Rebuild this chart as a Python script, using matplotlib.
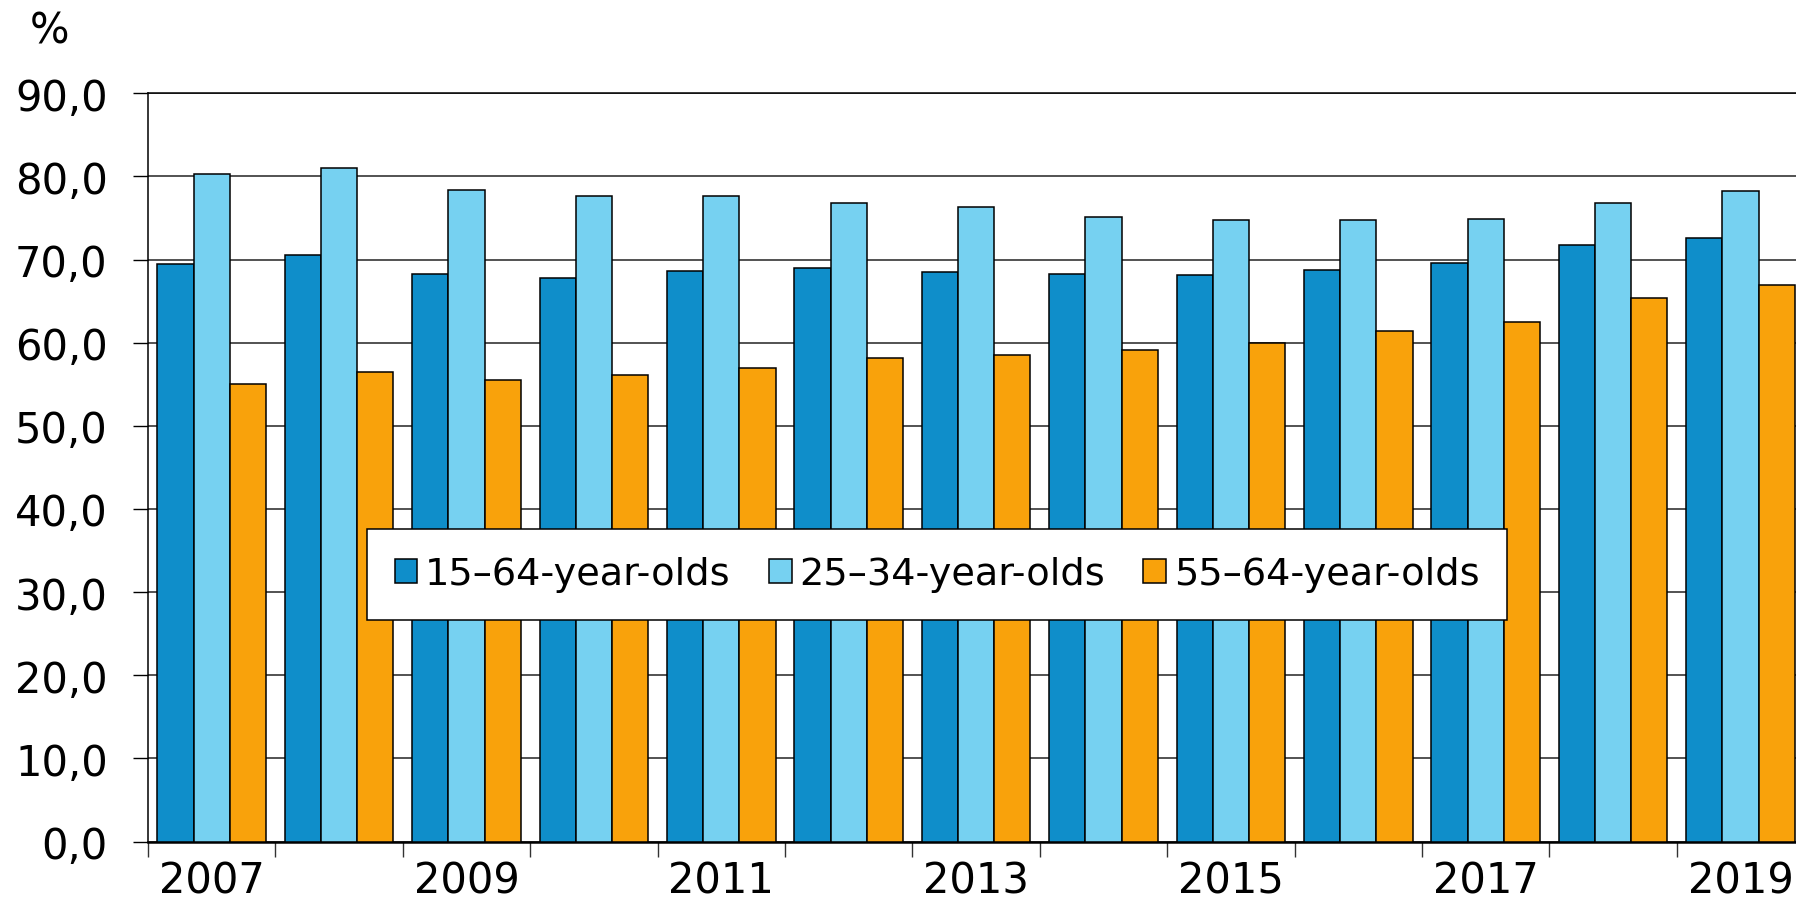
import numpy as np
import matplotlib
matplotlib.use('Agg')
import matplotlib.pyplot as plt

# employment rate by age group, %
years = [2007, 2008, 2009, 2010, 2011, 2012, 2013, 2014, 2015, 2016, 2017, 2018, 2019]
age_15_64 = [69.5, 70.6, 68.3, 67.8, 68.6, 69.0, 68.5, 68.3, 68.1, 68.7, 69.6, 71.7, 72.6]
age_25_34 = [80.3, 81.0, 78.4, 77.6, 77.6, 76.8, 76.3, 75.1, 74.8, 74.8, 74.9, 76.8, 78.2]
age_55_64 = [55.0, 56.5, 55.5, 56.1, 57.0, 58.2, 58.5, 59.1, 60.0, 61.4, 62.5, 65.4, 66.9]
series_labels = ['15–64-year-olds', '25–34-year-olds', '55–64-year-olds']
colors = ['#0F8ECA', '#76D1F1', '#F9A20B']
y_ticks = np.arange(0, 91, 10)

plt.rcParams['font.family'] = ['DejaVu Sans']

fig = plt.figure(figsize=(17.96, 9.04), dpi=100)
ax = fig.add_axes([0.0824, 0.068, 0.9222, 0.8277])

x = np.arange(len(years))
w = 0.284
for k, vals in enumerate([age_15_64, age_25_34, age_55_64]):
    ax.bar(x + (k - 1) * w, vals, width=w, color=colors[k], edgecolor='black',
           linewidth=1.1, label=series_labels[k], zorder=3)

ax.set_xlim(-0.5, len(years) - 0.5)
ax.set_ylim(0, 90)
ax.set_yticks(y_ticks)
ax.set_yticklabels([f'{v:.1f}'.replace('.', ',') for v in y_ticks])
ax.yaxis.grid(True, color='#444444', linewidth=1.3, zorder=0)

# boundary ticks between years, labels every other year in the middle
ax.set_xticks(np.arange(-0.5, len(years) + 0.5, 1))
ax.set_xticklabels([])
ax.set_xticks(x[::2], minor=True)
ax.set_xticklabels([str(y) for y in years[::2]], minor=True)
ax.tick_params(axis='x', which='major', length=11, width=1.0, color='#333333')
ax.tick_params(axis='x', which='minor', length=0, pad=13, labelsize=30)
ax.tick_params(axis='y', length=11, width=1.0, pad=18, labelsize=30)

for s in ['left', 'top', 'right']:
    ax.spines[s].set_linewidth(1.1)
ax.spines['bottom'].set_linewidth(1.8)

fig.text(0.0275, 0.965, '%', fontsize=30, ha='center', va='center')

leg = ax.legend(loc='upper left', bbox_to_anchor=(367 / 1796, 1 - 530 / 904),
                bbox_transform=fig.transFigure, ncol=3, fontsize=27.5,
                frameon=True, fancybox=False, framealpha=1, edgecolor='black',
                handlelength=0.6, handleheight=0.6, handletextpad=0.2,
                columnspacing=1.0, borderpad=0.72, borderaxespad=0)
leg.get_frame().set_linewidth(1.1)

fig.savefig('out.png', dpi=100)
